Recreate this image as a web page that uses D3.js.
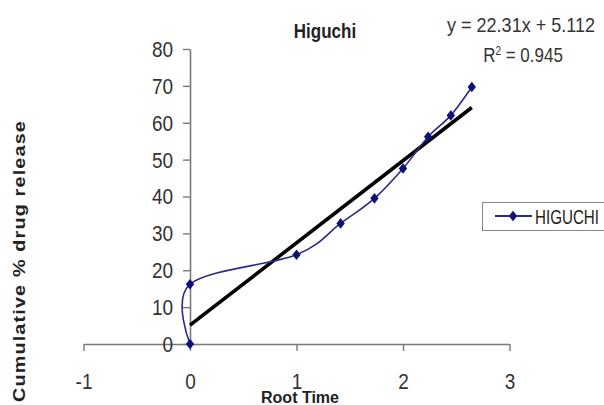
<!DOCTYPE html>
<html>
<head>
<meta charset="utf-8">
<script src="https://cdn.jsdelivr.net/npm/d3@7"></script>
<style>
  body { margin: 0; background: #fff; }
  svg { font-family: Arial, "Liberation Sans", sans-serif; }
  .tall { transform: scaleY(1.2); transform-box: fill-box; transform-origin: center; }
</style>
</head>
<body>
<div id="chart"></div>
<script>
// Higuchi data: root time vs cumulative % drug release
const rootTime = [0, 0, 1, 1.414, 1.732, 2, 2.236, 2.449, 2.646];
const release = [0, 16.2, 24.2, 32.7, 39.5, 47.6, 56.2, 62.0, 69.7];
const xTicks = [-1, 0, 1, 2, 3];
const yTicks = [0, 10, 20, 30, 40, 50, 60, 70, 80];
const slope = 22.31, intercept = 5.112;

const width = 604, height = 405;
const svg = d3.select('#chart').append('svg')
    .attr('width', width)
    .attr('height', height);

const x = d3.scaleLinear().domain([-1, 3]).range([83.5, 509.5]);
const y = d3.scaleLinear().domain([0, 80]).range([344, 49]);

// x axis sits on y = 0, labels pushed down low
const xAxis = svg.append('g')
    .attr('transform', `translate(0,${y(0)})`)
    .call(d3.axisBottom(x).tickValues(xTicks).tickFormat(d => String(d))
        .tickSize(7).tickSizeOuter(0).tickPadding(23));

// y axis sits on x = 0
const yAxis = svg.append('g')
    .attr('transform', `translate(${x(0)},0)`)
    .call(d3.axisLeft(y).tickValues(yTicks).tickSize(7).tickSizeOuter(0).tickPadding(10));

[xAxis, yAxis].forEach(g => {
    g.attr('font-size', null);
    g.select('.domain').attr('stroke', '#7a7a7a').attr('stroke-width', 1.6);
    g.selectAll('.tick line').attr('stroke', '#7a7a7a').attr('stroke-width', 1.4);
    g.selectAll('.tick text')
        .attr('class', 'tall')
        .attr('fill', '#333')
        .style('font-size', '19px')
        .style('font-family', 'Arial, "Liberation Sans", sans-serif');
});

// fitted trendline over the data range
const xMin = d3.min(rootTime), xMax = d3.max(rootTime);
svg.append('line')
    .attr('x1', x(xMin)).attr('y1', y(slope * xMin + intercept))
    .attr('x2', x(xMax)).attr('y2', y(slope * xMax + intercept))
    .attr('stroke', '#000')
    .attr('stroke-width', 3.6);

// smoothed series line
const pts = rootTime.map((t, i) => [t, release[i]]);
const line = d3.line()
    .x(d => x(d[0]))
    .y(d => y(d[1]))
    .curve(d3.curveCatmullRom.alpha(0));

svg.append('path')
    .datum(pts)
    .attr('fill', 'none')
    .attr('stroke', '#2a2a8a')
    .attr('stroke-width', 1.6)
    .attr('d', line);

const diamond = d3.symbol().type(d3.symbolDiamond2).size(55);
svg.append('g').selectAll('path')
    .data(pts)
    .join('path')
    .attr('transform', d => `translate(${x(d[0])},${y(d[1])}) scale(0.9,1.15)`)
    .attr('d', diamond)
    .attr('fill', '#10107a');

// titles
svg.append('text')
    .attr('class', 'tall')
    .attr('x', 325).attr('y', 37)
    .attr('text-anchor', 'middle')
    .style('font-size', '17px').style('font-weight', 'bold')
    .attr('fill', '#222')
    .text('Higuchi');

svg.append('text')
    .attr('class', 'tall')
    .attr('x', 521).attr('y', 31)
    .attr('text-anchor', 'middle')
    .attr('textLength', 148).attr('lengthAdjust', 'spacingAndGlyphs')
    .style('font-size', '17px')
    .attr('fill', '#333')
    .text(`y = ${slope}x + ${intercept}`);

const r2 = svg.append('text')
    .attr('class', 'tall')
    .attr('x', 523).attr('y', 61)
    .attr('text-anchor', 'middle')
    .style('font-size', '17px')
    .attr('fill', '#333');
r2.append('tspan').text('R');
r2.append('tspan').attr('dy', -6).style('font-size', '10px').text('2');
r2.append('tspan').attr('dy', 6).text(' = 0.945');

svg.append('text')
    .attr('x', 300).attr('y', 403)
    .attr('text-anchor', 'middle')
    .attr('textLength', 78).attr('lengthAdjust', 'spacingAndGlyphs')
    .style('font-size', '16px').style('font-weight', 'bold')
    .attr('fill', '#222')
    .text('Root Time');

svg.append('text')
    .attr('transform', 'translate(25,261) rotate(-90)')
    .attr('text-anchor', 'middle')
    .attr('textLength', 282).attr('lengthAdjust', 'spacingAndGlyphs')
    .style('font-size', '17px').style('font-weight', 'bold')
    .style('letter-spacing', '1px')
    .attr('fill', '#222')
    .text('Cumulative % drug release');

// legend
const legend = svg.append('g');
legend.append('rect')
    .attr('x', 482.5).attr('y', 202.5)
    .attr('width', 130).attr('height', 28)
    .attr('fill', '#fff')
    .attr('stroke', '#888');
legend.append('line')
    .attr('x1', 495).attr('x2', 532)
    .attr('y1', 216).attr('y2', 216)
    .attr('stroke', '#2a2a8a').attr('stroke-width', 1.8);
legend.append('path')
    .attr('transform', 'translate(513,216) scale(0.9,1.15)')
    .attr('d', diamond)
    .attr('fill', '#10107a');
legend.append('text')
    .attr('class', 'tall')
    .attr('x', 535).attr('y', 223)
    .attr('textLength', 64).attr('lengthAdjust', 'spacingAndGlyphs')
    .style('font-size', '17px')
    .attr('fill', '#222')
    .text('HIGUCHI');
</script>
</body>
</html>
